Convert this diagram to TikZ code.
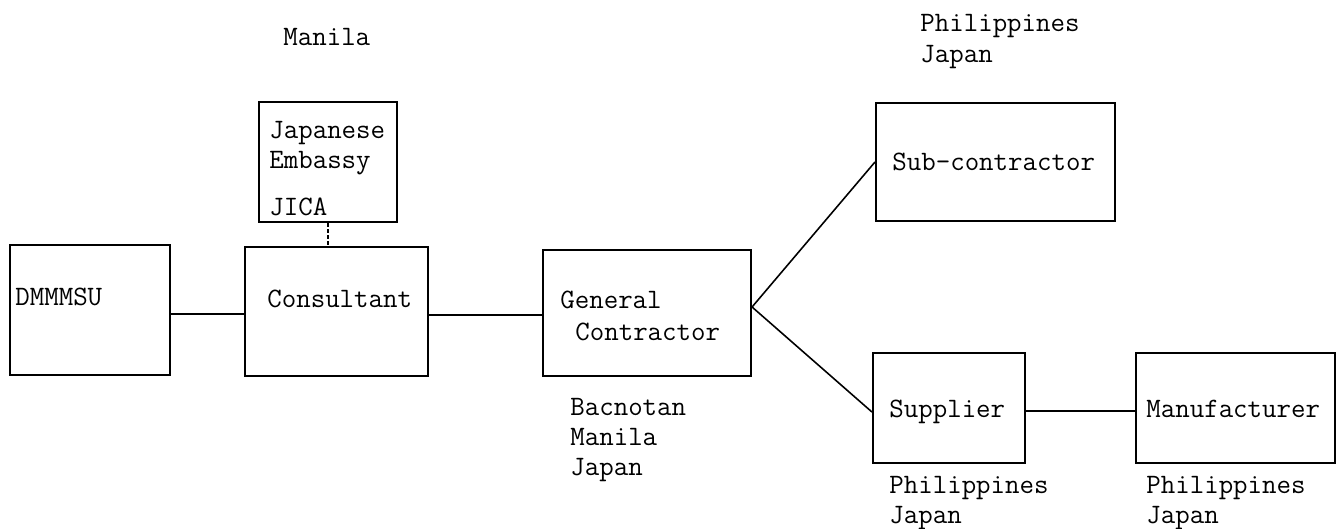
\documentclass[tikz,border=0pt]{standalone}
\usepackage{fontspec}
\tikzset{
  box/.style={draw, line width=1.2pt, inner sep=0pt},
  txt/.style={anchor=base west, inner sep=0pt, font=\ttfamily\fontsize{16}{19}\selectfont},
  link/.style={line width=0.9pt},
}
\begin{document}
\begin{tikzpicture}[x=0.02cm,y=-0.02cm]
  \useasboundingbox (0,0) rectangle (1341,528);
  % boxes
  \node[box, minimum width=3.2cm,  minimum height=2.6cm]  (dmmmsu) at (90,310) {};
  \node[box, minimum width=3.66cm, minimum height=2.58cm] (cons)   at (336.5,311.5) {};
  \node[box, minimum width=2.76cm, minimum height=2.4cm]  (emb)    at (328,162) {};
  \node[box, minimum width=4.16cm, minimum height=2.52cm] (gc)     at (647,313) {};
  \node[box, minimum width=4.78cm, minimum height=2.36cm] (sub)    at (995.5,162) {};
  \node[box, minimum width=3.04cm, minimum height=2.2cm]  (supp)   at (949,408) {};
  \node[box, minimum width=3.98cm, minimum height=2.2cm]  (manu)   at (1235.5,408) {};
  % texts in boxes
  \node[txt] (tdmmmsu) at (15,305) {DMMMSU};
  \node[txt] (tcons)   at (267,307) {Consultant};
  \node[txt] (temb1)   at (269,138) {Japanese};
  \node[txt] (temb2)   at (269,168) {Embassy};
  \node[txt] (temb3)   at (269,215) {JICA};
  \node[txt] (tgc1)    at (560,308) {General};
  \node[txt] (tgc2)    at (575,340) {Contractor};
  \node[txt] (tsub)    at (892,170) {Sub-contractor};
  \node[txt] (tsupp)   at (889,417) {Supplier};
  \node[txt] (tmanu)   at (1146,417) {Manufacturer};
  % places
  \node[txt] (pcons)  at (283,45) {Manila};
  \node[txt] (psub1)  at (920,31) {Philippines};
  \node[txt] (psub2)  at (920,62) {Japan};
  \node[txt] (pgc1)   at (570,415) {Bacnotan};
  \node[txt] (pgc2)   at (570,445) {Manila};
  \node[txt] (pgc3)   at (570,475) {Japan};
  \node[txt] (psupp1) at (889,493) {Philippines};
  \node[txt] (psupp2) at (889,523) {Japan};
  \node[txt] (pmanu1) at (1146,493) {Philippines};
  \node[txt] (pmanu2) at (1146,523) {Japan};
  % links
  \draw[link] (dmmmsu.east |- 0,314) -- (cons.west |- 0,314);
  \draw[link] (cons.east |- 0,315) -- (gc.west |- 0,315);
  \draw[link, dash pattern=on 2pt off 1.5pt] (emb.south) -- (emb.south |- cons.north);
  \draw[link] (gc.east |- 0,307) -- (sub.west);
  \draw[link] (gc.east |- 0,307) -- (supp.west |- 0,412);
  \draw[link] (supp.east |- 0,411) -- (manu.west |- 0,411);
\end{tikzpicture}
\end{document}
